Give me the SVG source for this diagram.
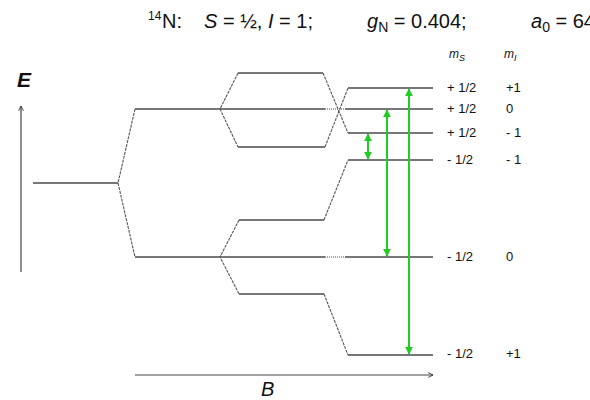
<svg xmlns="http://www.w3.org/2000/svg" width="590" height="400" viewBox="0 0 590 400">
<defs>
<style>
text{font-family:"Liberation Sans",Arial,sans-serif;fill:#111}
.title{font-size:20px}
.lab{font-size:13px}
.lvl{stroke:#4a4a4a;stroke-width:1.3;fill:none}
.dot{stroke:#888;stroke-width:1.3;stroke-dasharray:1 1;fill:none}
.dash{stroke:#555;stroke-width:1.1;stroke-dasharray:3 1;fill:none}
.axis{stroke:#444;stroke-width:1.2;fill:none}
.tr{stroke:#22cc22;stroke-width:2;fill:none;marker-start:url(#gh);marker-end:url(#gh)}
</style>
<marker id="gh" viewBox="0 0 10 10" refX="9" refY="5" markerWidth="4" markerHeight="4" orient="auto-start-reverse" markerUnits="strokeWidth">
<path d="M0,0 L10,5 L0,10 z" fill="#22cc22"/>
</marker>
<marker id="ah" viewBox="0 0 10 10" refX="9" refY="5" markerWidth="6" markerHeight="6" orient="auto" markerUnits="userSpaceOnUse">
<path d="M1,1 L9,5 L1,9" fill="none" stroke="#333" stroke-width="1.5"/>
</marker>
</defs>

<g id="title">
<text x="148" y="20" font-size="12">14</text>
<text class="title" x="162" y="28">N:</text>
<text class="title" x="204" y="28"><tspan font-style="italic">S</tspan> = ½, <tspan font-style="italic">I</tspan> = 1;</text>
<text class="title" x="367" y="28"><tspan font-style="italic">g</tspan><tspan font-size="14" dy="4">N</tspan><tspan dy="-4"> = 0.404;</tspan></text>
<text class="title" x="531" y="28"><tspan font-style="italic">a</tspan><tspan font-size="14" dy="4">0</tspan><tspan dy="-4"> = 64</tspan></text>
</g>

<g id="headers">
<text x="449" y="58" font-size="12" font-style="italic">m<tspan font-size="9" dy="3">S</tspan></text>
<text x="504" y="58" font-size="12" font-style="italic">m<tspan font-size="9" dy="3">I</tspan></text>
</g>

<g id="axes">
<line class="axis" x1="21" y1="272" x2="21" y2="106" marker-end="url(#ah)"/>
<text x="17" y="87" font-size="21" font-weight="bold" font-style="italic">E</text>
<line class="axis" x1="135" y1="375" x2="433" y2="375" marker-end="url(#ah)"/>
<text x="261" y="396" font-size="20" font-style="italic">B</text>
</g>

<g id="level-zero"><line class="lvl" x1="33" y1="183" x2="118" y2="183"/></g>

<g id="level-ms-plus">
<line class="lvl" x1="135" y1="109" x2="325" y2="109"/>
<line class="dot" x1="325" y1="109" x2="345" y2="109"/>
<line class="lvl" x1="345" y1="109" x2="433" y2="109"/>
</g>
<g id="level-ms-minus">
<line class="lvl" x1="135" y1="257" x2="325" y2="257"/>
<line class="dot" x1="325" y1="257" x2="345" y2="257"/>
<line class="lvl" x1="345" y1="257" x2="433" y2="257"/>
</g>
<g id="level-a"><line class="lvl" x1="238" y1="73" x2="323" y2="73"/></g>
<g id="level-b"><line class="lvl" x1="238" y1="147" x2="325" y2="147"/></g>
<g id="level-c"><line class="lvl" x1="239" y1="220" x2="324" y2="220"/></g>
<g id="level-d"><line class="lvl" x1="239" y1="294" x2="324" y2="294"/></g>
<g id="level-1"><line class="lvl" x1="348" y1="88" x2="433" y2="88"/></g>
<g id="level-3"><line class="lvl" x1="348" y1="133" x2="433" y2="133"/></g>
<g id="level-4"><line class="lvl" x1="348" y1="160" x2="433" y2="160"/></g>
<g id="level-6"><line class="lvl" x1="348" y1="355" x2="433" y2="355"/></g>

<g id="connectors">
<path class="dash" d="M135,109 L118,183 L135,257"/>
<path class="dash" d="M238,73 L220,109 L238,147"/>
<path class="dash" d="M239,220 L220,257 L239,294"/>
<path class="dash" d="M323,73 L348,133"/>
<path class="dash" d="M325,147 L348,88"/>
<path class="dash" d="M324,220 L348,160"/>
<path class="dash" d="M324,294 L348,355"/>
<line class="tr" x1="368" y1="134" x2="368" y2="159"/>
<line class="tr" x1="387" y1="110" x2="387" y2="256"/>
<line class="tr" x1="409" y1="89" x2="409" y2="354"/>
</g>

<g id="labels">
<text class="lab" x="447" y="92">+ 1/2</text><text class="lab" x="506" y="92">+1</text>
<text class="lab" x="447" y="113">+ 1/2</text><text class="lab" x="506" y="113">0</text>
<text class="lab" x="447" y="137">+ 1/2</text><text class="lab" x="506" y="137">- 1</text>
<text class="lab" x="447" y="164">- 1/2</text><text class="lab" x="506" y="164">- 1</text>
<text class="lab" x="447" y="261">- 1/2</text><text class="lab" x="506" y="261">0</text>
<text class="lab" x="447" y="358">- 1/2</text><text class="lab" x="506" y="358">+1</text>
</g>
</svg>
